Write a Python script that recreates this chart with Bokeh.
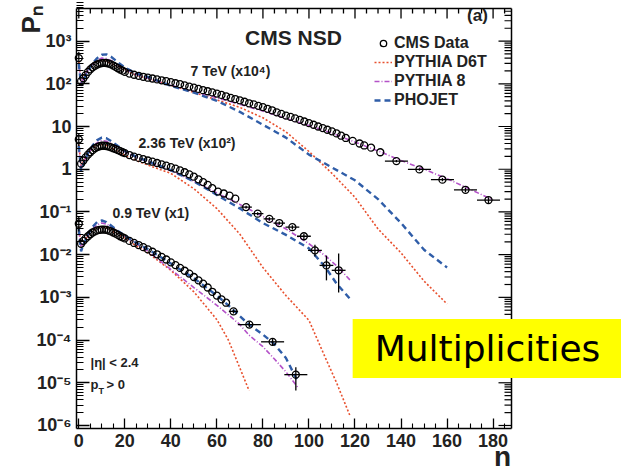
import math
from bokeh.plotting import figure
from bokeh.models import (FixedTicker, CustomJSTickFormatter, Label, Legend, LegendItem)
from bokeh.embed import file_html
from bokeh.resources import INLINE

# ---------------- data (plotted values, already scaled) ----------------
# 7 TeV (x10^4) CMS data
n7 = [0, 1, 2, 3, 4, 5, 6, 7, 8, 9, 10, 11, 12, 13, 14, 15, 16, 17, 18, 19, 20,
      22, 24, 26, 28, 30, 32, 34, 36, 38, 40, 42, 44, 46, 48, 50, 52, 54, 56, 58,
      60, 62, 64, 66, 68, 70, 72, 74, 76, 78, 80, 82, 84, 86, 88, 90, 92, 94, 96,
      98, 100, 102, 104, 106, 108, 110, 112, 114, 116, 119, 122, 124, 127, 131]
p7 = [400, 115, 135, 160, 190, 218, 243, 265, 283, 297, 306, 310, 307, 298, 285, 268,
      250, 232, 216, 203, 190,
      174, 163, 154, 146, 139, 133, 127, 121, 115, 109, 103, 98, 92, 86, 81, 76, 71,
      67, 63, 59, 55, 51, 47, 44, 41, 38, 35, 33, 30.5, 28.5, 26, 24, 21.5, 19.8, 18,
      16.8, 15.5, 14.3, 13.1, 12, 11, 10, 9.2, 8.4, 7.7, 6.9, 6.1, 5.4,
      4.6, 4.0, 3.6, 3.2, 2.5]
nb7 = [138, 148, 158, 168, 178]
pb7 = [1.55, 0.99, 0.57, 0.33, 0.19]
xe7 = [5, 5, 5, 5, 5]
lo7 = [1.45, 0.92, 0.52, 0.29, 0.16]
hi7 = [1.65, 1.06, 0.62, 0.37, 0.22]

# 2.36 TeV (x10^2) CMS data
n236 = [0, 1, 2, 3, 4, 5, 6, 7, 8, 9, 10, 11, 12, 13, 14, 15, 16, 17, 18, 19, 20,
        22, 24, 26, 28, 30, 32, 34, 36, 38, 40, 42, 44, 46, 48, 50, 52, 54, 56,
        58, 60.5, 63, 65.5, 68]
p236 = [5.0, 1.35, 1.6, 1.9, 2.2, 2.5, 2.8, 3.1, 3.3, 3.45, 3.55, 3.55, 3.5, 3.4,
        3.25, 3.1, 2.95, 2.8, 2.65, 2.5, 2.38,
        2.15, 1.98, 1.84, 1.72, 1.6, 1.5, 1.4, 1.3, 1.21, 1.12, 1.03, 0.94, 0.85,
        0.76, 0.67, 0.58, 0.5, 0.43,
        0.36, 0.30, 0.27, 0.24, 0.205]
nb236 = [72.7, 77.7, 82.8, 87.1, 92.8, 97.8, 102.6, 107.6, 112.9]
pb236 = [0.13, 0.091, 0.069, 0.055, 0.044, 0.027, 0.0126, 0.0056, 0.0043]
xe236 = [2.5, 2.5, 2.5, 2.5, 3, 3, 3, 3, 3]
lo236 = [0.12, 0.084, 0.063, 0.05, 0.039, 0.023, 0.009, 0.0025, 0.0013]
hi236 = [0.14, 0.098, 0.075, 0.06, 0.049, 0.031, 0.017, 0.0095, 0.0107]

# 0.9 TeV (x1) CMS data
n09 = [0, 1, 2, 3, 4, 5, 6, 7, 8, 9, 10, 11, 12, 13, 14, 15, 16, 17, 18, 19, 20,
       22, 24, 26, 28, 30, 32, 34, 36, 38, 40, 42, 44, 46, 48, 50, 52, 54, 56, 58,
       60, 62, 64]
p09 = [0.053, 0.018, 0.021, 0.024, 0.027, 0.030, 0.033, 0.035, 0.037, 0.038, 0.0385,
       0.0385, 0.038, 0.0365, 0.035, 0.033, 0.031, 0.029, 0.027, 0.0255, 0.024,
       0.021, 0.0188, 0.0168, 0.015, 0.0133, 0.0117, 0.0102, 0.0089, 0.0077, 0.0066,
       0.0057, 0.0049, 0.0042, 0.0036, 0.0030, 0.0025, 0.0021, 0.0017, 0.00135,
       0.0011, 0.0009, 0.00075]
nb09 = [67.2, 74.1, 84.2, 94.3]
pb09 = [4.7e-4, 2.3e-4, 9.1e-5, 1.55e-5]
xe09 = [2, 5, 5, 5]
lo09 = [4.2e-4, 2.0e-4, 7.5e-5, 6.6e-6]
hi09 = [5.2e-4, 2.7e-4, 1.1e-4, 2.3e-5]

# vertical error bars on the n = 0 points
n0 = [0, 0, 0]
lo0 = [320, 3.5, 0.035]
hi0 = [560, 7.0, 0.08]

# MC predictions: 7 TeV (x10^4)
m7_n = [0, 1, 2, 4, 6, 8, 10, 12, 14, 17, 20, 25, 30, 40, 50, 60, 70, 80, 90, 100,
        110, 120, 130, 140, 150, 160, 170, 180]
d6t7 = [330, 120, 150, 230, 300, 340, 350, 335, 300, 250, 205, 160, 132, 92, 63, 42,
        28, 16, 7.5, 2.6, 0.8, 0.22, 0.04, 0.011, 2.4e-3, 7e-4]
py87 = [280, 100, 130, 210, 290, 360, 400, 390, 350, 280, 220, 165, 135, 92, 66, 47,
        33, 23, 15.5, 10.5, 7, 4.3, 2.7, 1.6, 1.0, 0.6, 0.34, 0.19]
pho7 = [300, 90, 120, 200, 300, 400, 480, 490, 430, 320, 240, 175, 145, 90, 62, 40,
        22, 11, 5.5, 2.2, 1.1, 0.55, 0.2, 0.055, 0.013, 0.005]
# MC predictions: 2.36 TeV (x10^2)
m236_n = [0, 1, 2, 4, 6, 8, 10, 12, 14, 17, 20, 25, 30, 40, 50, 60, 70, 80, 90, 100,
          107, 112, 118]
d6t236 = [3.8, 1.2, 1.5, 2.3, 3.1, 3.6, 3.8, 3.6, 3.2, 2.6, 2.1, 1.6, 1.25, 0.8, 0.35,
          0.12, 0.03, 5e-3, 1.1e-3, 2.9e-4, 4e-5, 1e-5, 1.6e-6]
py8236 = [3.2, 1.0, 1.4, 2.3, 3.3, 4.2, 4.7, 4.5, 4.0, 3.2, 2.55, 1.9, 1.5, 0.92,
          0.52, 0.28, 0.15, 0.078, 0.04, 0.018, 0.0095, 0.0055, 0.0025]
pho236 = [3.5, 0.9, 1.3, 2.4, 3.6, 4.8, 5.5, 5.3, 4.6, 3.5, 2.7, 1.95, 1.55, 0.95,
          0.52, 0.25, 0.12, 0.055, 0.029, 0.014, 0.0052, 0.0021, 0.0009]
# MC predictions: 0.9 TeV (x1)
m09_n = [0, 1, 2, 4, 6, 8, 10, 12, 14, 17, 20, 25, 30, 40, 50, 60, 65, 70, 74, 80, 85,
         90, 95]
d6t09 = [0.045, 0.016, 0.019, 0.028, 0.036, 0.042, 0.044, 0.042, 0.037, 0.030, 0.024,
         0.016, 0.011, 4.3e-3, 1.35e-3, 3e-4, 1e-4, 2.2e-5, 6.5e-6]
py809 = [0.035, 0.014, 0.018, 0.028, 0.040, 0.050, 0.055, 0.052, 0.045, 0.035, 0.027,
         0.018, 0.012, 4.5e-3, 1.7e-3, 6.5e-4, 3.9e-4, 2.3e-4, 1.3e-4, 7e-5, 3.6e-5,
         1.8e-5, 8e-6]
pho09 = [0.040, 0.012, 0.017, 0.030, 0.045, 0.058, 0.063, 0.058, 0.048, 0.036, 0.028,
         0.019, 0.0135, 6.2e-3, 2.8e-3, 1.1e-3, 6.5e-4, 3.6e-4, 2.3e-4, 1.35e-4, 8e-5,
         3.8e-5, 1.1e-5]

# axis ticks
x_tick_values = [0, 20, 40, 60, 80, 100, 120, 140, 160, 180]
x_minor_values = [v for v in range(0, 190, 5) if v % 20 != 0]
y_tick_values = [1e-6, 1e-5, 1e-4, 1e-3, 1e-2, 1e-1, 1, 10, 100, 1000]
y_tick_labels = ["10\u207b\u2076", "10\u207b\u2075", "10\u207b\u2074", "10\u207b\u00b3",
                 "10\u207b\u00b2", "10\u207b\u00b9", "1", "10", "10\u00b2", "10\u00b3"]
y_minor_values = [k * d for d in [1e-6, 1e-5, 1e-4, 1e-3, 1e-2, 1e-1, 1, 10, 100, 1000]
                  for k in range(2, 10)]

# ---------------- layout / styling ----------------
W, H = 621, 471
FONT = "Liberation Sans"
C_D6T = "#E8502E"
C_PY8 = "#B452C8"
C_PHO = "#2F5DA8"
X0, XF = -1, 188            # axis box, data units
Y0, Y1 = 8.5e-7, 5.8e3
BOX_L, BOX_R, BOX_T, BOX_B = 76, 511, 8, 428   # axis box on the page, pixels
px_per_x = (BOX_R - BOX_L) / (XF - X0)
px_per_dec = (BOX_B - BOX_T) / (math.log10(Y1) - math.log10(Y0))
# the drawing area covers the whole page; the axes sit at fixed places inside it
XS = X0 - BOX_L / px_per_x
XE = X0 + (W - BOX_L) / px_per_x
YT = Y1 * 10 ** (BOX_T / px_per_dec)
YB = Y0 / 10 ** ((H - BOX_B) / px_per_dec)

p = figure(width=W, height=H, x_range=(XS, XE), y_range=(YB, YT),
           y_axis_type="log", output_backend="svg", toolbar_location=None,
           min_border=0)
p.xgrid.visible = False
p.ygrid.visible = False
p.outline_line_color = None
p.background_fill_color = "white"
p.border_fill_color = "white"

xt = FixedTicker(ticks=x_tick_values, minor_ticks=x_minor_values)
yt = FixedTicker(ticks=y_tick_values, minor_ticks=y_minor_values)
yfmt = CustomJSTickFormatter(args=dict(vals=y_tick_values, labs=y_tick_labels), code="""
for (let i = 0; i < vals.length; i++) {
  if (Math.abs(Math.log10(tick) - Math.log10(vals[i])) < 1e-6) return labs[i];
}
return "";
""")


def style_axis(ax, major, minor):
    ax.major_tick_in = major
    ax.major_tick_out = 0
    ax.minor_tick_in = minor
    ax.minor_tick_out = 0
    ax.axis_line_width = 1.5
    ax.major_tick_line_width = 1.3
    ax.minor_tick_line_width = 1.1
    ax.major_label_text_font = FONT
    ax.major_label_text_font_style = "bold"
    ax.major_label_text_font_size = "18px"
    ax.major_label_text_color = "#222222"
    ax.major_label_standoff = 5


xax = p.xaxis[0]
yax = p.yaxis[0]
xax.ticker = xt
yax.ticker = yt
yax.formatter = yfmt
style_axis(xax, 10, 5)
style_axis(yax, 13, 7)
xax.bounds = (X0, XF)
yax.bounds = (Y0, Y1)
xax.fixed_location = Y0
yax.fixed_location = X0

# top and right edges of the axis box, with mirrored ticks (ROOT style)
p.segment(x0=[X0], y0=[Y1], x1=[XF], y1=[Y1], line_color="black", line_width=1.5)
p.segment(x0=[XF], y0=[Y0], x1=[XF], y1=[Y1], line_color="black", line_width=1.5)
for vals, length in [(x_tick_values, 10), (x_minor_values, 5)]:
    f = 10 ** (length / px_per_dec)
    p.segment(x0=vals, y0=[Y1] * len(vals), x1=vals, y1=[Y1 / f] * len(vals),
              line_color="black", line_width=1.3)
for vals, length in [(y_tick_values, 13), (y_minor_values, 7)]:
    vv = [v for v in vals if Y0 < v < Y1]
    dx = length / px_per_x
    p.segment(x0=[XF] * len(vv), y0=vv, x1=[XF - dx] * len(vv), y1=vv,
              line_color="black", line_width=1.2)

# MC curves
LW = 1.6
r_d6t = None
for nn, vv in [(m7_n, d6t7), (m236_n, d6t236), (m09_n, d6t09)]:
    r = p.line(nn[:len(vv)], vv, line_color=C_D6T, line_width=LW, line_dash="2 2")
    r_d6t = r_d6t or r
r_py8 = None
for nn, vv in [(m7_n, py87), (m236_n, py8236), (m09_n, py809)]:
    r = p.line(nn[:len(vv)], vv, line_color=C_PY8, line_width=LW, line_dash="5 2 1 2")
    r_py8 = r_py8 or r
r_pho = None
for nn, vv in [(m7_n, pho7), (m236_n, pho236), (m09_n, pho09)]:
    r = p.line(nn[:len(vv)], vv, line_color=C_PHO, line_width=2.4, line_dash="6 4")
    r_pho = r_pho or r

# error bars
for nb, pb, xe, lo, hi in [(nb7, pb7, xe7, lo7, hi7), (nb236, pb236, xe236, lo236, hi236),
                           (nb09, pb09, xe09, lo09, hi09)]:
    p.segment(x0=[a - e for a, e in zip(nb, xe)], y0=pb,
              x1=[a + e for a, e in zip(nb, xe)], y1=pb, line_color="black", line_width=1.3)
    p.segment(x0=nb, y0=lo, x1=nb, y1=hi, line_color="black", line_width=1.3)
p.segment(x0=n0, y0=lo0, x1=n0, y1=hi0, line_color="black", line_width=1.3)

# data markers
r_data = None
for nn, vv in [(n7, p7), (nb7, pb7), (n236, p236), (nb236, pb236), (n09, p09), (nb09, pb09)]:
    r = p.scatter(nn, vv, marker="circle", size=7, fill_color=None,
                  line_color="black", line_width=1.3)
    r_data = r_data or r

legend = Legend(items=[LegendItem(label="CMS Data", renderers=[r_data]),
                       LegendItem(label="PYTHIA D6T", renderers=[r_d6t]),
                       LegendItem(label="PYTHIA 8", renderers=[r_py8]),
                       LegendItem(label="PHOJET", renderers=[r_pho])],
                location=(374, 362), orientation="vertical",
                label_text_font=FONT, label_text_font_style="bold",
                label_text_font_size="16px", label_text_color="#222222",
                glyph_width=18, glyph_height=16, label_height=18, label_standoff=2,
                spacing=1, padding=0, margin=0, border_line_color=None,
                background_fill_alpha=0)
p.add_layout(legend, "center")


def lab(text, x, y, size, align="left", bold=True, font=FONT, color="#222222",
        baseline="middle", angle=0, **kw):
    # x, y: page pixels from the top-left corner
    l = Label(x=x, y=H - y, x_units="screen", y_units="screen", text=text,
              text_font=font, text_font_size=size,
              text_font_style="bold" if bold else "normal", text_align=align,
              text_baseline=baseline, text_color=color, angle=angle, **kw)
    p.add_layout(l)
    return l


lab("CMS NSD", 293, 37, "21px", align="center")
lab("(a)", 477, 15, "17px", align="center")
lab("7 TeV (x10\u2074)", 190, 70, "14px")
lab("2.36 TeV (x10\u00b2)", 138, 142, "14px")
lab("0.9 TeV (x1)", 112, 212, "14px")
lab("|\u03b7| < 2.4", 90, 362, "13px")
lab("p", 90, 384, "13px")
lab("T", 98, 390, "9px")
lab("> 0", 106, 384, "13px")
lab("n", 502, 456, "28px", align="center")
lab("P\u2099", 30, 33, "26px", align="left", baseline="alphabetic", angle=math.pi / 2)
lab("Multiplicities", 487, 348, "36px", align="center", bold=False, font="DejaVu Sans",
    color="black", background_fill_color="#FFFF00",
    padding=dict(left=22, right=22, top=9, bottom=9))

open("out.html", "w").write(file_html(p, INLINE))
